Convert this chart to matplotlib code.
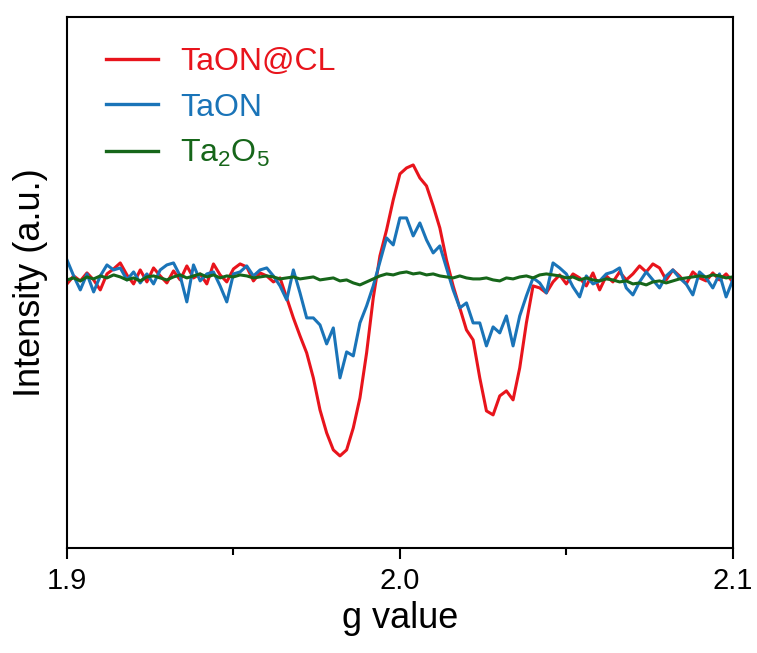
import numpy as np
import matplotlib
matplotlib.use("Agg")
import matplotlib.pyplot as plt
from matplotlib.ticker import MultipleLocator

plt.rcParams['font.family'] = ['Liberation Sans', 'DejaVu Sans']
plt.rcParams['mathtext.default'] = 'regular'

# g values (step 0.002 from 1.900 to 2.100)
g = np.linspace(1.9, 2.1, 101)

# intensities (a.u.)
taon_cl = [-6, 2, -3, 5, -2, -12, 4, 9, 15, 3,
           -6, 8, -4, 10, 2, -5, 7, -2, 12, 0,
           4, -6, 14, 3, -4, 9, 14, 11, -3, 5,
           2, -4, 0, -20, -40, -58, -75, -100, -132, -155,
           -172, -178, -172, -150, -120, -75, -20, 22, 48, 78,
           104, 110, 113, 100, 92, 72, 50, 18, -8, -30,
           -52, -62, -100, -133, -137, -118, -113, -122, -90, -45,
           -8, -10, -15, -4, 3, -6, 4, 0, -8, 5,
           -12, 2, -4, 6, -2, 4, 12, 6, 14, 10,
           -2, 8, 2, -6, 6, 0, -3, 5, -2, 4,
           -4]

taon = [18, 2, -12, 4, -14, 2, 13, 8, 10, -2,
        6, -5, 4, -6, 8, 13, 15, 2, -24, 13,
        -3, 4, 6, -8, -24, 4, 6, 12, 2, 8,
        10, 2, -8, -22, 8, -15, -40, -40, -47, -66,
        -50, -100, -74, -78, -45, -28, -8, 16, 40, 33,
        60, 60, 42, 55, 38, 25, 32, 10, -12, -30,
        -25, -45, -45, -68, -49, -55, -38, -68, -38, -18,
        0, -5, -15, 15, 10, 4, -9, -19, 2, -6,
        -3, 4, 6, 10, -10, -17, -4, 6, -2, -10,
        2, 8, 0, -6, -17, 6, 0, -10, 4, -19,
        -2]

ta2o5 = [-2, 0, -3, 1, -1, 2, 0, 3, 1, -2,
         0, -3, 1, 2, 0, -2, 1, 3, 0, 2,
         4, 1, 3, 0, 2, 1, 3, 2, 0, 1,
         2, 1, -1, 0, 1, -1, 0, 1, -2, -1,
         0, -3, -2, -5, -7, -4, -1, 2, 4, 3,
         5, 6, 4, 5, 3, 4, 2, 1, 0, 2,
         0, -1, -1, 0, -2, -3, 0, -1, 1, 2,
         0, 3, 4, 3, 2, 0, 1, -2, 0, -2,
         -3, -1, -2, -4, -3, -6, -5, -7, -4, -3,
         -5, -3, -1, 0, 1, 2, 1, 3, 2, 0,
         1]

fig = plt.figure(figsize=(7.57, 6.53), dpi=100)
ax = fig.add_axes([0.0885, 0.161, 0.8795, 0.813])

ax.plot(g, taon_cl, color='#e8141c', lw=2.2, label='TaON@CL')
ax.plot(g, taon, color='#1a74b8', lw=2.2, label='TaON')
ax.plot(g, ta2o5, color='#16661a', lw=2.2, label='Ta$_2$O$_5$')

ax.set_xlim(1.9, 2.1)
ax.set_ylim(-270, 261)
ax.xaxis.set_major_locator(MultipleLocator(0.1))
ax.xaxis.set_minor_locator(MultipleLocator(0.05))
ax.set_xticks([1.9, 2.0, 2.1])
ax.set_xticklabels(['1.9', '2.0', '2.1'])
ax.set_yticks([])
ax.tick_params(axis='x', which='major', direction='out', length=8, width=1.5,
               labelsize=21, pad=6)
ax.tick_params(axis='x', which='minor', direction='out', length=5, width=1.5)
for s in ax.spines.values():
    s.set_linewidth(1.5)

ax.set_xlabel('g value', fontsize=26, labelpad=4)
ax.set_ylabel('Intensity (a.u.)', fontsize=26, labelpad=14)

leg = ax.legend(loc='upper left', bbox_to_anchor=(0.04, 0.967), frameon=False,
                fontsize=23, handlelength=1.6, handletextpad=0.7,
                labelspacing=0.48, borderaxespad=0)
for txt, line in zip(leg.get_texts(), leg.get_lines()):
    txt.set_color(line.get_color())
    line.set_linewidth(2.4)

fig.savefig('out.png', dpi=100)
